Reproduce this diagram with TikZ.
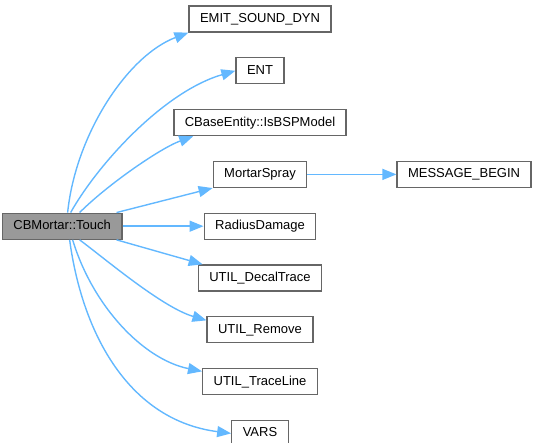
\documentclass[tikz,border=0pt]{standalone}
\usepackage{fontspec}
\setmainfont{Liberation Sans}
\usetikzlibrary{arrows.meta, positioning}
\definecolor{cEdge}{HTML}{63B8FF}
\definecolor{cBorder}{HTML}{666666}
\definecolor{cRoot}{HTML}{999999}
\tikzset{
	fn/.style  ={rectangle, draw=cBorder, line width=1.3pt, fill=white, minimum height=26pt, inner xsep=11pt, inner ysep=0pt, text height=9.5pt, text depth=2.5pt, font=\fontsize{13}{15}\selectfont},
	root/.style={fn, fill=cRoot},
	call/.style={-{Triangle[length=14pt, width=11pt]}, draw=cEdge, line width=1.4pt},
}
\begin{document}
\begin{tikzpicture}[x=1pt, y=-1pt, node distance=24.5pt]
	\useasboundingbox (0,0) rectangle (535,443);
	\node[fn] (emit) at (260,19) {EMIT\_SOUND\_DYN};
	\node[fn, below=of emit] (ent) {ENT};
	\node[fn, below=of ent] (bsp) {CBaseEntity::IsBSPModel};
	\node[fn, below=of bsp] (spray) {MortarSpray};
	\node[fn, below=of spray] (radius) {RadiusDamage};
	\node[fn, below=of radius] (decal) {UTIL\_DecalTrace};
	\node[fn, below=of decal] (remove) {UTIL\_Remove};
	\node[fn, below=of remove] (trace) {UTIL\_TraceLine};
	\node[fn, below=of trace] (vars) {VARS};
	\node[fn, right=89pt of spray] (msg) {MESSAGE\_BEGIN};
	\node[root, left=81pt of radius] (touch) {CBMortar::Touch};
	% calls out of CBMortar::Touch
	\draw[call] ([xshift=5.5pt]touch.north) .. controls +(8,-78) and +(-61,23) .. (emit.south west);
	\draw[call] ([xshift=8.5pt]touch.north) .. controls +(27,-48) and +(-72,21) .. (ent.west);
	\draw[call] ([xshift=17.5pt]touch.north) .. controls +(28,-28) and +(-33,12) .. ([xshift=20pt]bsp.south west);
	\draw[call] ([xshift=-6pt]touch.north east) -- (spray.south west);
	\draw[call] (touch) -- (radius);
	\draw[call] ([xshift=-6pt]touch.south east) -- ([xshift=5pt]decal.north west);
	\draw[call] ([xshift=17.5pt]touch.south) .. controls +(28,21) and +(-44,-13) .. (remove.170);
	\draw[call] ([xshift=10.5pt]touch.south) .. controls +(20,66) and +(-59,-12) .. (trace.170);
	\draw[call] ([xshift=7.5pt]touch.south) .. controls +(13,96) and +(-101,-13) .. (vars.west);
	\draw[call] (spray) -- (msg);
\end{tikzpicture}
\end{document}
